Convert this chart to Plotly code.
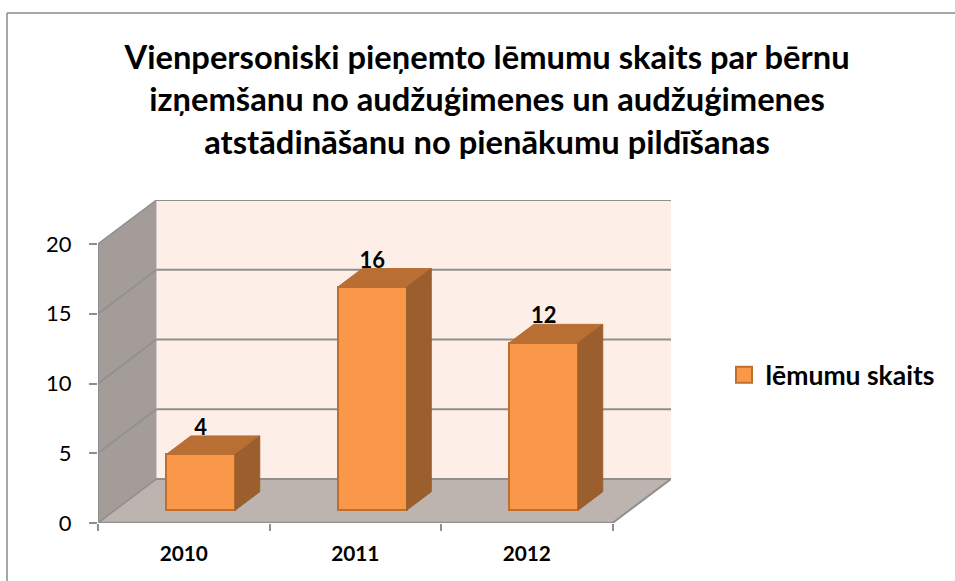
import plotly.graph_objects as go

# ---- data ----
CATEGORIES = ["2010", "2011", "2012"]
VALUES = [4, 16, 12]
SERIES_NAME = "lēmumu skaits"
Y_TICKS = [0, 5, 10, 15, 20]
TITLE_LINES = [
    "Vienpersoniski pieņemto lēmumu skaits par bērnu",
    "izņemšanu no audžuģimenes un audžuģimenes",
    "atstādināšanu no pienākumu pildīšanas",
]

# ---- 3D look (in axis units) ----
N = len(CATEGORIES)
Y_MAX = Y_TICKS[-1]
DX, DY = 58.5 / 171.5, 44 / 13.93      # full depth of the chart box
BAR_W = 0.402
F0, F1 = 0.29, 0.71                    # bar depth range as fraction of the box
LABEL_LIFT = 6.5 / 13.93
FONT = "Lato"
LINE = "#8f8f8f"
WALL_BACK, WALL_SIDE, FLOOR = "#fdeee7", "#a39c98", "#beb4af"
BAR_FRONT, BAR_TOP, BAR_SIDE, BAR_EDGE = "#fa984a", "#b96f33", "#9a5f2c", "#bd6f2f"

centers = [i + 0.5 for i in range(N)]
bar_base = F0 * DY
bar_dx = (F1 - F0) * DX
bar_dy = (F1 - F0) * DY

fig = go.Figure()


def poly(xs, ys, color, edge=None):
    fig.add_trace(go.Scatter(
        x=xs + xs[:1], y=ys + ys[:1], mode="lines", fill="toself", fillcolor=color,
        line=dict(color=edge or color, width=1), showlegend=False, hoverinfo="skip"))


# front faces, through the library's bar scale
fig.add_trace(go.Bar(
    x=[c + F0 * DX for c in centers], y=VALUES, base=[bar_base] * N, width=BAR_W,
    marker=dict(color=BAR_FRONT, line=dict(color=BAR_EDGE, width=2)),
    showlegend=False, hoverinfo="skip"))

# top and side faces
for c, v in zip(centers, VALUES):
    xl = c + F0 * DX - BAR_W / 2
    xr = xl + BAR_W
    top = bar_base + v
    poly([xl, xr, xr + bar_dx, xl + bar_dx], [top, top, top + bar_dy, top + bar_dy], BAR_TOP)
    poly([xr, xr + bar_dx, xr + bar_dx, xr],
         [bar_base, bar_base + bar_dy, top + bar_dy, top], BAR_SIDE)

# data labels
fig.add_trace(go.Scatter(
    x=[c + F0 * DX for c in centers],
    y=[bar_base + bar_dy + v + LABEL_LIFT for v in VALUES],
    mode="text", text=[str(v) for v in VALUES], textposition="middle center",
    textfont=dict(family=FONT, size=22, color="#000000", weight="bold"),
    showlegend=False, hoverinfo="skip"))

# legend entry
fig.add_trace(go.Scatter(
    x=[None], y=[None], mode="markers", name=SERIES_NAME,
    marker=dict(symbol="square", size=16, color=BAR_FRONT, line=dict(color=BAR_EDGE, width=2))))

shapes = []


def wall(xs, ys, color):
    path = "M " + " L ".join(f"{x},{y}" for x, y in zip(xs, ys)) + " Z"
    shapes.append(dict(type="path", path=path, fillcolor=color, line=dict(width=0),
                       layer="below", xref="x", yref="y"))


def seg(x0, y0, x1, y1, width=2):
    shapes.append(dict(type="line", x0=x0, y0=y0, x1=x1, y1=y1, xref="x", yref="y",
                       line=dict(color=LINE, width=width), layer="below"))


wall([DX, N + DX, N + DX, DX], [DY, DY, DY + Y_MAX, DY + Y_MAX], WALL_BACK)
wall([0, DX, DX, 0], [0, DY, DY + Y_MAX, Y_MAX], WALL_SIDE)
wall([0, N, N + DX, DX], [0, 0, DY, DY], FLOOR)
for t in Y_TICKS:
    seg(DX, DY + t, N + DX, DY + t)
    seg(0, t, DX, DY + t, 1.5)
seg(DX, DY, N + DX, DY)
seg(N, 0, N + DX, DY)
seg(0, 0, 0, Y_MAX)
seg(0, 0, N, 0, 2.5)

# outer chart border, running off the page on the right and at the bottom
PW, PH = 955, 581
ML, MR, MT, MB = 98, 284, 200, 58
W, H = PW - ML - MR, PH - MT - MB
bx = (7 - ML) / W
by = 1 + (MT - 13) / H
for x0, y0, x1, y1 in [(bx, by, 1 + MR / W, by), (bx, by, bx, -MB / H)]:
    shapes.append(dict(type="line", xref="paper", yref="paper", x0=x0, y0=y0, x1=x1, y1=y1,
                       line=dict(color="#8a8a8a", width=1.5)))

fig.update_layout(
    width=PW, height=PH, margin=dict(l=ML, r=MR, t=MT, b=MB, pad=0, autoexpand=False),
    paper_bgcolor="white", plot_bgcolor="white", shapes=shapes, bargap=0,
    title=dict(text="<br>".join(TITLE_LINES), x=0.51, xanchor="center", y=0.8815, yanchor="top",
               font=dict(family=FONT, size=32.7, color="#000000", weight="bold")),
    xaxis=dict(range=[0, N + DX], showgrid=False, zeroline=False, showline=False,
               tickvals=centers, ticktext=CATEGORIES, ticks="",
               tickfont=dict(family=FONT, size=20.8, color="#000000", weight="bold"),
               ticklabelstandoff=16, fixedrange=True,
               minor=dict(tickvals=list(range(N + 1)), ticks="outside", ticklen=7,
                          tickcolor=LINE, tickwidth=2)),
    yaxis=dict(range=[0, Y_MAX + DY], showgrid=False, zeroline=False, showline=False,
               tickvals=Y_TICKS, ticks="outside", ticklen=8, tickcolor=LINE, tickwidth=2,
               tickfont=dict(family=FONT, size=22, color="#000000"),
               ticklabelstandoff=13, fixedrange=True),
    legend=dict(x=(722.5 - ML) / W, y=1 - (375 - MT) / H, xanchor="left", yanchor="middle",
                font=dict(family=FONT, size=26.5, color="#000000", weight="bold"),
                itemwidth=33, itemsizing="trace", bgcolor="rgba(0,0,0,0)",
                itemclick=False, itemdoubleclick=False),
)

fig.write_html("out.html", config={"displayModeBar": False},
               post_script="document.body.style.margin='0';")
